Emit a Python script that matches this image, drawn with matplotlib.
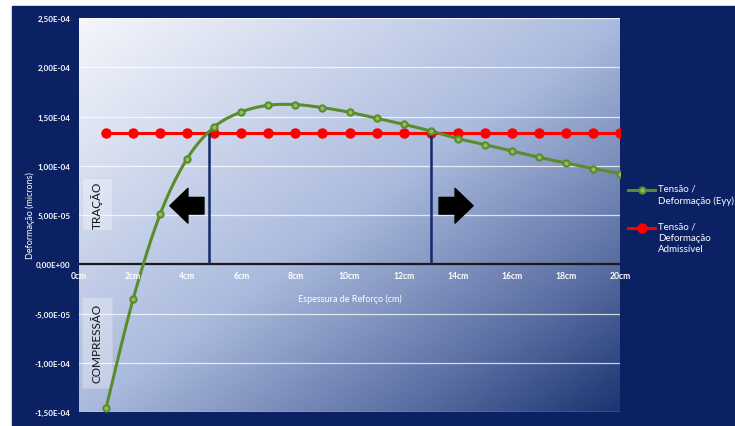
import numpy as np
import matplotlib.pyplot as plt
from matplotlib.colors import LinearSegmentedColormap
from matplotlib.patches import Rectangle
from matplotlib.lines import Line2D

plt.rcParams['font.family'] = ['Lato', 'DejaVu Sans']

# thickness of reinforcement (cm) and strain values
espessura = [1, 2, 3, 4, 5, 6, 7, 8, 9, 10, 11, 12, 13, 14, 15, 16, 17, 18, 19, 20]
deformacao_eyy = [-1.46e-4, -3.55e-5, 5.08e-5, 1.073e-4, 1.394e-4, 1.546e-4, 1.614e-4,
                  1.621e-4, 1.59e-4, 1.543e-4, 1.482e-4, 1.421e-4, 1.353e-4, 1.276e-4,
                  1.215e-4, 1.15e-4, 1.086e-4, 1.028e-4, 0.972e-4, 0.921e-4]
deformacao_admissivel = [1.333e-4] * 20
limites_x = [4.8, 13.0]

y_ticks = [-1.5e-4, -1.0e-4, -5e-5, 0, 5e-5, 1.0e-4, 1.5e-4, 2.0e-4, 2.5e-4]
x_ticks = [0, 2, 4, 6, 8, 10, 12, 14, 16, 18, 20]
x_labels = [f"{v}cm" for v in x_ticks]

NAVY = '#0b2163'
GREEN = '#5a8c2c'
RED = '#ff0000'


def smooth(xs, ys, n=20):
    # Catmull-Rom curve through the points (Excel style smoothed line)
    p = np.column_stack([xs, ys]).astype(float)
    p = np.vstack([p[0], p, p[-1]])
    out = []
    t = np.linspace(0, 1, n, endpoint=False)[:, None]
    for i in range(1, len(p) - 2):
        p0, p1, p2, p3 = p[i - 1], p[i], p[i + 1], p[i + 2]
        seg = 0.5 * ((2 * p1) + (-p0 + p2) * t + (2 * p0 - 5 * p1 + 4 * p2 - p3) * t ** 2
                     + (-p0 + 3 * p1 - 3 * p2 + p3) * t ** 3)
        out.append(seg)
    out.append(p[-2][None, :])
    out = np.vstack(out)
    return out[:, 0], out[:, 1]


fig = plt.figure(figsize=(7.35, 4.27), dpi=100, facecolor='white')
fig.patches.append(Rectangle((12 / 735, 0), 723 / 735, 420 / 427,
                             transform=fig.transFigure, color=NAVY, zorder=-10))

ax = fig.add_axes([79 / 735, 14 / 427, 541 / 735, 394 / 427])
ax.set_facecolor('none')

# diagonal gradient for the plot area
u, v = np.meshgrid(np.linspace(0, 1, 300), np.linspace(0, 1, 300))
grad = (u + v) / 2
cmap = LinearSegmentedColormap.from_list('fundo', [(0, '#f4f6fb'), (0.5, '#abbbde'),
                                                    (0.8, '#5b6fa3'), (1, '#1c3571')])
ax.imshow(grad, extent=[0, 1, 0, 1], transform=ax.transAxes, aspect='auto',
          cmap=cmap, zorder=0, origin='upper')

ax.set_xlim(0, 20)
ax.set_ylim(-1.5e-4, 2.5e-4)

for yv in y_ticks:
    if yv != 0:
        ax.axhline(yv, color='white', lw=0.9, alpha=0.75, zorder=1)
ax.axhline(0, color='#1a1a1a', lw=1.6, zorder=2)

for s in ax.spines.values():
    s.set_visible(False)

ax.set_yticks(y_ticks)
ax.set_yticklabels([f"{v:.2E}".replace('.', ',') for v in y_ticks])
ax.tick_params(axis='y', length=0, pad=6, labelcolor='white', labelsize=5.8)
ax.set_xticks([])
for xv, lab in zip(x_ticks, x_labels):
    ax.text(xv, -1.1e-5, lab, ha='center', va='center', color='white',
            fontsize=6.2, fontweight='bold', zorder=6)
for lab in ax.get_yticklabels():
    lab.set_fontweight('bold')

ax.text(10, -3.45e-5, 'Espessura de Reforço (cm)', ha='center', va='center',
        color='white', fontsize=6.5, zorder=6)
fig.text(30 / 735, 1 - 216 / 427, 'Deformação (microns)', rotation=90,
         ha='center', va='center', color='white', fontsize=6.5)

# series
xs, ys = smooth(espessura, deformacao_eyy)
ax.plot(xs, ys, color=GREEN, lw=2.2, zorder=4, solid_capstyle='round')
ax.plot(espessura, deformacao_eyy, ls='none', marker='o', ms=4.5, mfc='#8fc05a',
        mec=GREEN, mew=1.5, zorder=5)
ax.plot(espessura, deformacao_admissivel, color=RED, lw=2.2, marker='o', ms=6.5,
        zorder=3)

ax.vlines(limites_x, 0, deformacao_admissivel[0], color='#13296b', lw=1.8, zorder=3)

# direction arrows
arrow = dict(arrowstyle='simple,head_length=1.3,head_width=2.5,tail_width=1.2',
             mutation_scale=10, color='black', shrinkA=0, shrinkB=0)
ax.annotate('', xy=(3.36, 5.94e-5), xytext=(4.62, 5.94e-5), arrowprops=arrow, zorder=6)
ax.annotate('', xy=(14.57, 5.94e-5), xytext=(13.31, 5.94e-5), arrowprops=arrow, zorder=6)

# region labels
for y0, y1, txt in [(3.45e-5, 8.73e-5, 'TRAÇÃO'), (-1.259e-4, -3.35e-5, 'COMPRESSÃO')]:
    ax.add_patch(Rectangle((0.11, y0), 1.11, y1 - y0, facecolor='white', alpha=0.3,
                           edgecolor='#c5ccda', lw=0.8, zorder=2))
    ax.text(0.665, (y0 + y1) / 2, txt, rotation=90, ha='center', va='center',
            fontsize=8.5, color='#111111', zorder=6)

# legend
def legend_entry(y_px, color, lines, ms, mfc, mew):
    yf = 1 - y_px / 427
    fig.add_artist(Line2D([628 / 735, 655 / 735], [yf, yf], color=color, lw=2.2,
                          transform=fig.transFigure))
    fig.add_artist(Line2D([641.5 / 735], [yf], marker='o', ms=ms, mfc=mfc, mec=color,
                          mew=mew, transform=fig.transFigure))
    fig.text(658 / 735, yf + 6 / 427, lines, ha='left', va='top', color='white',
             fontsize=7, linespacing=1.3)


legend_entry(191, GREEN, 'Tensão /\nDeformação (Eyy)', 4.5, '#8fc05a', 1.5)
legend_entry(229, RED, 'Tensão /\nDeformação\nAdmissível', 6.5, RED, 1)

fig.savefig('out.png', dpi=100, facecolor=fig.get_facecolor())
